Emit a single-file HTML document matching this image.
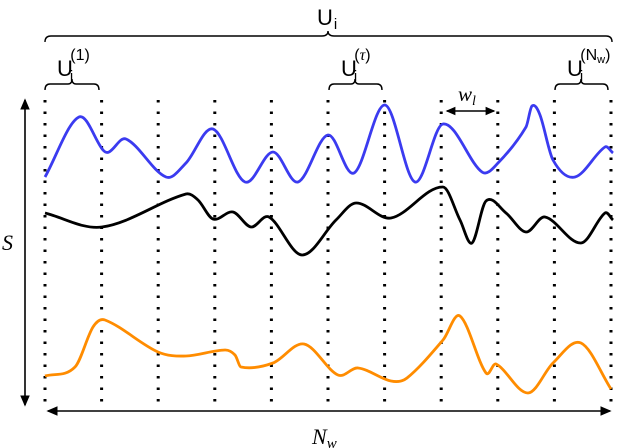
<!DOCTYPE html>
<html><head><meta charset="utf-8"><style>
html,body{margin:0;padding:0;background:#fff;}
svg{display:block;font-family:"Liberation Sans",sans-serif;}
</style></head><body>
<svg id="fig" width="620" height="448" viewBox="0 0 620 448" xmlns="http://www.w3.org/2000/svg">
<defs>
<marker id="ah" markerWidth="8" markerHeight="8" refX="6" refY="4" orient="auto-start-reverse"><path d="M0,1 L7,4 L0,7 Z" fill="#000"/></marker>
</defs>
<g id="grid"></g>
<g id="curves"></g>
<line x1="25" y1="100" x2="25" y2="405" stroke="#000" stroke-width="1.6" marker-start="url(#ah)" marker-end="url(#ah)"/>
<text x="2" y="250" font-family="Liberation Serif,serif" font-style="italic" font-size="22">S</text>
<line x1="48" y1="411" x2="610" y2="411" stroke="#000" stroke-width="1.6" marker-start="url(#ah)" marker-end="url(#ah)"/>
<text x="312" y="444" font-family="Liberation Serif,serif" font-style="italic" font-size="22">N<tspan font-size="15" dy="4">w</tspan></text>
<path d="M45,42 Q45,36 51,36 L322,36 Q328,36 328,31 Q328,36 334,36 L606,36 Q612,36 612,42" fill="none" stroke="#000" stroke-width="1.4"/>
<text x="317" y="25" font-size="22">U<tspan font-size="15" dx="1" dy="4">i</tspan></text>
<path d="M45,90 Q45,84 50,84 L68,84 Q72,84 72,79 Q72,84 76,84 L94,84 Q99,84 99,90" fill="none" stroke="#000" stroke-width="1.4"/>
<text x="57" y="76" font-size="22">U<tspan font-size="15" dx="-3" dy="5">i</tspan><tspan font-size="16" dx="-3" dy="-21">(1)</tspan></text>
<path d="M329,90 Q329,84 334,84 L351,84 Q355,84 355,79 Q355,84 359,84 L377,84 Q382,84 382,90" fill="none" stroke="#000" stroke-width="1.4"/>
<text x="341" y="76" font-size="22">U<tspan font-size="15" dx="-3" dy="5">i</tspan><tspan font-size="16" dx="-3" dy="-21">(<tspan font-family="Liberation Serif,serif" font-style="italic">τ</tspan>)</tspan></text>
<path d="M555,90 Q555,84 560,84 L577,84 Q581,84 581,79 Q581,84 585,84 L603,84 Q608,84 608,90" fill="none" stroke="#000" stroke-width="1.4"/>
<text x="567" y="76" font-size="22">U<tspan font-size="15" dx="-3" dy="5">i</tspan><tspan font-size="16" dx="-3" dy="-21">(N<tspan font-size="11" dy="3">w</tspan><tspan dy="-3">)</tspan></tspan></text>
<line x1="447" y1="111" x2="494" y2="111" stroke="#000" stroke-width="1.4" marker-start="url(#ah)" marker-end="url(#ah)"/>
<text x="458" y="101" font-family="Liberation Serif,serif" font-style="italic" font-size="21">w<tspan font-size="14" dy="4">l</tspan></text>
</svg>
<script>
const boundaries = [45, 101.6, 158.2, 214.8, 271.4, 328, 384.6, 441.2, 497.8, 554.4, 611];
const blueX = [45,79,103,109,126,166,186,213,245,273,298,328,354,385,415,443,482,498,526,532,540,553,575,605,613];
const blueY = [177,117,150,152,139,177,163,129,182,152,182,135,173,105,182,124,172,163,127,106,115,160,177,147,153];
const blackX = [45,102,186,198,213,233,251,269,302,336,356,391,443,460,472,486,506,526,545,581,605,613];
const blackY = [213,227,194,200,219,212,227,217,255,220,203,218,187,220,243,201,213,232,217,243,213,220];
const orangeX = [45,75,93,105,158,186,225,235,241,273,304,338,358,391,407,443,460,486,496,528,553,581,611];
const orangeY = [376,367,327,320,352,356,350,355,367,363,344,375,368,381,378,340,316,373,364,393,363,343,389];
const NS = "http://www.w3.org/2000/svg";
const grid = document.getElementById('grid');
boundaries.forEach((bx, i) => {
  const l = document.createElementNS(NS, 'line');
  l.setAttribute('x1', bx); l.setAttribute('x2', bx);
  l.setAttribute('y1', 100); l.setAttribute('y2', 402);
  l.setAttribute('stroke', '#000'); l.setAttribute('stroke-width', '3');
  l.setAttribute('stroke-dasharray', '2.5 9');
  
  
  grid.appendChild(l);
});
function spline(xs, ys) {
  const n = xs.length;
  const m = [];
  for (let i = 0; i < n; i++) {
    const a = Math.max(i-1,0), b = Math.min(i+1,n-1);
    m.push((ys[b]-ys[a])/(xs[b]-xs[a]));
  }
  let d = 'M' + xs[0] + ',' + ys[0];
  for (let i = 0; i < n - 1; i++) {
    const h = xs[i+1]-xs[i];
    const c1x = xs[i] + h/3, c1y = ys[i] + m[i]*h/3;
    const c2x = xs[i+1] - h/3, c2y = ys[i+1] - m[i+1]*h/3;
    d += ' C' + c1x.toFixed(1) + ',' + c1y.toFixed(1) + ' ' + c2x.toFixed(1) + ',' + c2y.toFixed(1) + ' ' + xs[i+1] + ',' + ys[i+1];
  }
  return d;
}
const curves = document.getElementById('curves');
function addCurve(xs, ys, color, name) {
  const p = document.createElementNS(NS, 'path');
  p.setAttribute('d', spline(xs, ys));
  p.setAttribute('fill', 'none');
  p.setAttribute('stroke', color);
  p.setAttribute('stroke-width', '2.8');
  p.setAttribute('stroke-linejoin', 'round');
  
  
  curves.appendChild(p);
}
addCurve(blueX, blueY, '#3b3bf0', 'blue-signal');
addCurve(blackX, blackY, '#000000', 'black-signal');
addCurve(orangeX, orangeY, '#ff8c00', 'orange-signal');
</script>
</body></html>
